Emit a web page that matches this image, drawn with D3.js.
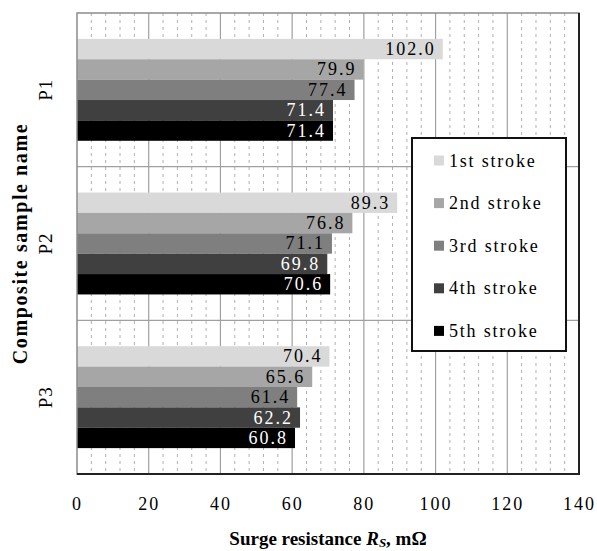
<!DOCTYPE html>
<html lang="en">
  <head>
    <meta charset="UTF-8" />
    <title>Surge resistance by stroke</title>
    <script src="https://d3js.org/d3.v7.min.js"></script>
    <style>
      body { margin: 0; background: #fff; }
      svg text { font-family: "Liberation Serif", "Times New Roman", Times, serif; }
    </style>
  </head>
  <body>
    <svg id="chart" width="597" height="551"></svg>
    <script>
      const samples = ["P1", "P2", "P3"];
      const strokes = ["1st stroke", "2nd stroke", "3rd stroke", "4th stroke", "5th stroke"];
      const valuesP1 = [102.0, 79.9, 77.4, 71.4, 71.4];
      const valuesP2 = [89.3, 76.8, 71.1, 69.8, 70.6];
      const valuesP3 = [70.4, 65.6, 61.4, 62.2, 60.8];
      const xTicks = [0, 20, 40, 60, 80, 100, 120, 140];

      const seriesBySample = { P1: valuesP1, P2: valuesP2, P3: valuesP3 };
      const colors = ["#d9d9d9", "#a6a6a6", "#7f7f7f", "#404040", "#000000"];
      const labelColors = ["#000", "#000", "#000", "#fff", "#fff"];

      const svg = d3.select("#chart");
      const plot = { left: 77, right: 579, top: 13, bottom: 474 };

      const x = d3.scaleLinear().domain([0, 140]).range([plot.left, plot.right]);
      const y0 = d3.scaleBand().domain(samples).range([plot.top, plot.bottom]).padding(0);
      const y1 = d3.scaleBand().domain(strokes).range([0, y0.bandwidth()])
        .paddingInner(0).paddingOuter(1.27);

      // minor dashed gridlines every 4 units
      const minor = d3.range(4, 140, 4).filter((v) => v % 20 !== 0);
      svg.append("g").selectAll("line").data(minor).join("line")
        .attr("x1", (d) => x(d)).attr("x2", (d) => x(d))
        .attr("y1", plot.top).attr("y2", plot.bottom)
        .attr("stroke", "#b0b0b0").attr("stroke-width", 1)
        .attr("stroke-dasharray", "3,4");

      // major gridlines
      svg.append("g").selectAll("line").data(xTicks.slice(1, -1)).join("line")
        .attr("x1", (d) => x(d)).attr("x2", (d) => x(d))
        .attr("y1", plot.top).attr("y2", plot.bottom)
        .attr("stroke", "#a0a0a0").attr("stroke-width", 1.2);

      svg.append("g").selectAll("line").data(samples.slice(1)).join("line")
        .attr("x1", plot.left).attr("x2", plot.right)
        .attr("y1", (d) => y0(d)).attr("y2", (d) => y0(d))
        .attr("stroke", "#a0a0a0").attr("stroke-width", 1.2);

      // bars
      const groups = svg.append("g").selectAll("g").data(samples).join("g")
        .attr("transform", (d) => `translate(0,${y0(d)})`);

      groups.selectAll("rect")
        .data((s) => seriesBySample[s].map((v, i) => ({ key: strokes[i], v, i })))
        .join("rect")
        .attr("x", x(0))
        .attr("y", (d) => y1(d.key))
        .attr("width", (d) => x(d.v) - x(0))
        .attr("height", y1.bandwidth())
        .attr("fill", (d) => colors[d.i]);

      groups.selectAll("text")
        .data((s) => seriesBySample[s].map((v, i) => ({ key: strokes[i], v, i })))
        .join("text")
        .attr("x", (d) => x(d.v) - 7)
        .attr("y", (d) => y1(d.key) + y1.bandwidth() / 2 + 6)
        .attr("text-anchor", "end")
        .attr("fill", (d) => labelColors[d.i])
        .style("font-size", "18px")
        .style("letter-spacing", "2px")
        .text((d) => d.v.toFixed(1));

      // frame
      svg.append("rect")
        .attr("x", plot.left).attr("y", plot.top)
        .attr("width", plot.right - plot.left).attr("height", plot.bottom - plot.top)
        .attr("fill", "none").attr("stroke", "#8c8c8c").attr("stroke-width", 1.5);
      svg.append("path")
        .attr("d", `M${plot.left},${plot.bottom}H${plot.right}V${plot.top}`)
        .attr("fill", "none").attr("stroke", "#222").attr("stroke-width", 2);

      // x axis labels
      const xAxis = svg.append("g")
        .attr("transform", `translate(0,${plot.bottom})`)
        .call(d3.axisBottom(x).tickValues(xTicks).tickSize(0).tickPadding(23));
      xAxis.select(".domain").remove();
      xAxis.attr("font-family", null);
      xAxis.selectAll("text")
        .attr("fill", "#000")
        .style("font-size", "18px")
        .style("letter-spacing", "2px");

      // category labels
      svg.append("g").selectAll("text").data(samples).join("text")
        .attr("transform", (d) => `translate(52,${y0(d) + y0.bandwidth() / 2}) rotate(-90)`)
        .attr("text-anchor", "middle")
        .style("font-size", "19px")
        .style("letter-spacing", "1px")
        .text((d) => d);

      // axis titles
      const xTitle = svg.append("text")
        .attr("x", (plot.left + plot.right) / 2)
        .attr("y", 545)
        .attr("text-anchor", "middle")
        .style("font-size", "19px")
        .style("font-weight", "bold");
      xTitle.append("tspan").text("Surge resistance ");
      xTitle.append("tspan").style("font-style", "italic").text("R");
      xTitle.append("tspan").style("font-style", "italic").style("font-size", "13px")
        .attr("dy", 2).text("S");
      xTitle.append("tspan").attr("dy", -2).text(", mΩ");

      svg.append("text")
        .attr("transform", `translate(27,${(plot.top + plot.bottom) / 2}) rotate(-90)`)
        .attr("text-anchor", "middle")
        .style("font-size", "20px")
        .style("font-weight", "bold")
        .style("letter-spacing", "1.6px")
        .text("Composite sample name");

      // legend
      const legend = svg.append("g").attr("transform", "translate(412,138)");
      legend.append("rect")
        .attr("width", 154).attr("height", 213)
        .attr("fill", "#fff").attr("stroke", "#111").attr("stroke-width", 2);
      const items = legend.selectAll("g.item").data(strokes).join("g")
        .attr("class", "item")
        .attr("transform", (d, i) => `translate(22,${22.5 + i * 42.6})`);
      items.append("rect")
        .attr("x", 0).attr("y", -5).attr("width", 10).attr("height", 10)
        .attr("fill", (d, i) => colors[i]);
      items.append("text")
        .attr("x", 15).attr("y", 6)
        .style("font-size", "18px")
        .style("letter-spacing", "1.8px")
        .text((d) => d);
    </script>
  </body>
</html>
